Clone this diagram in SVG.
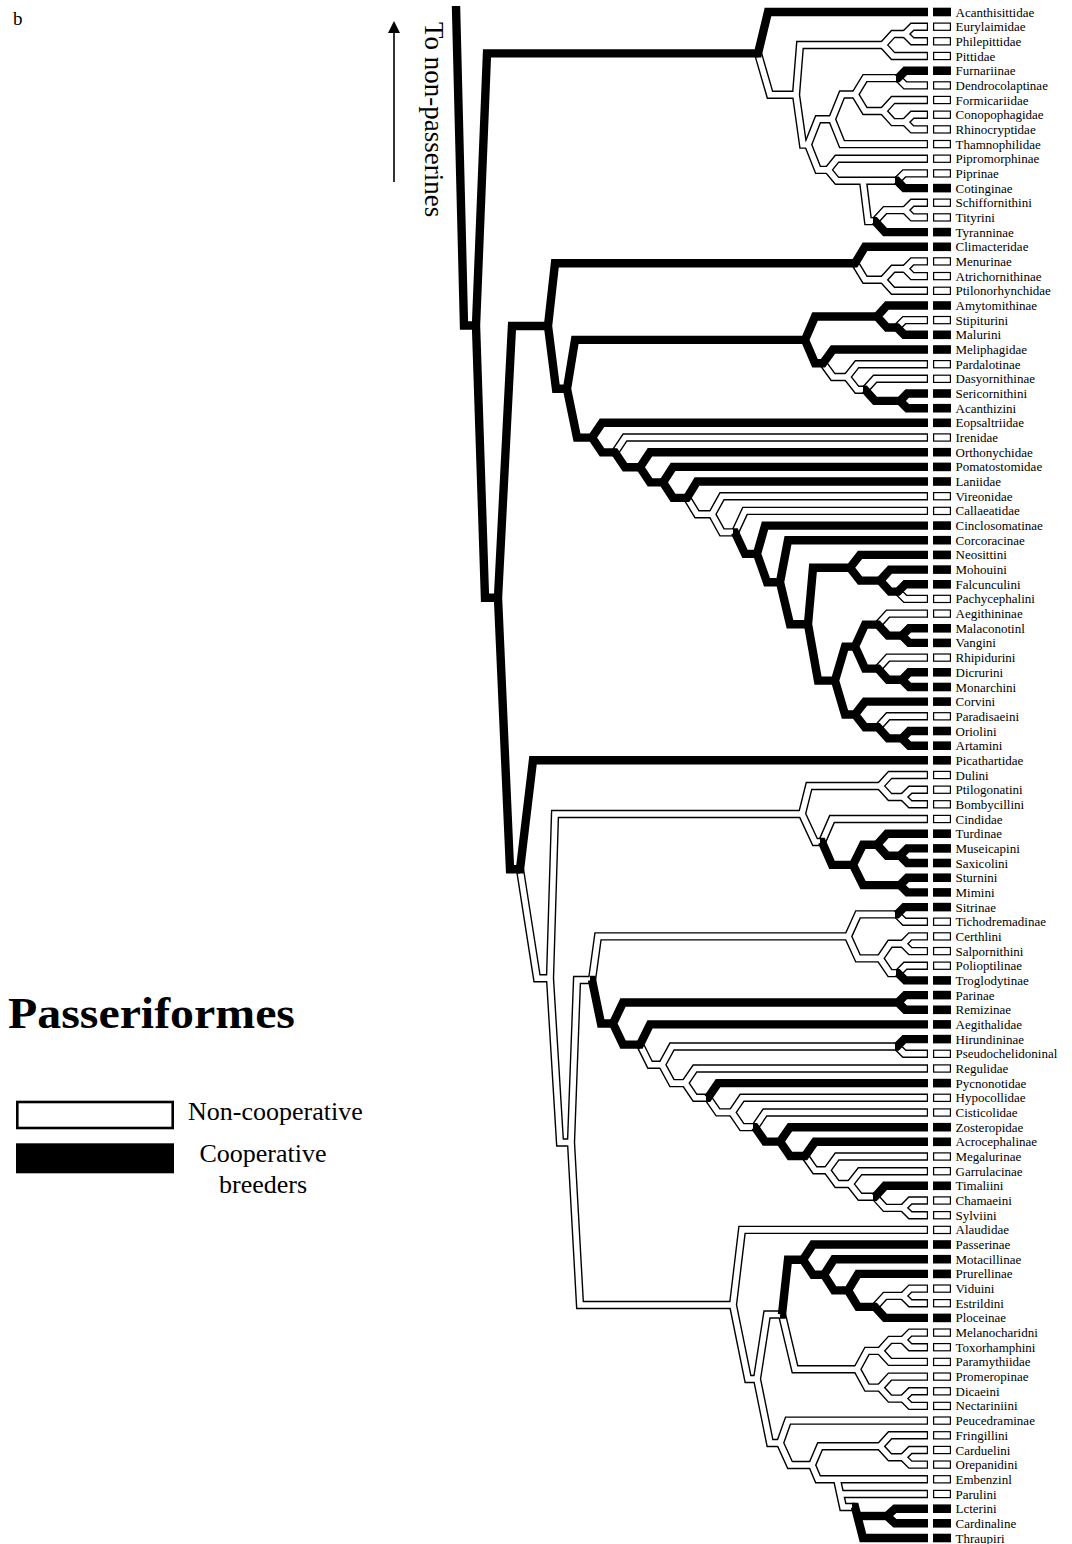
<svg xmlns="http://www.w3.org/2000/svg" xmlns:xlink="http://www.w3.org/1999/xlink" width="1072" height="1544" viewBox="0 0 1072 1544">
<style>
.tx{font-family:"Liberation Serif","Times New Roman",serif;font-size:13px;fill:#000}
.big{font-family:"Liberation Serif","Times New Roman",serif;fill:#000}
.k{fill:#000}
.w{fill:#fff;stroke:#000;stroke-width:1.2}
</style>
<defs>
<clipPath id="cl"><rect x="0" y="0" width="926.8" height="1544"/></clipPath>
<marker id="ah" markerWidth="14" markerHeight="12" refX="0" refY="6" orient="auto" markerUnits="userSpaceOnUse"><polygon points="0,0 12,6 0,12" fill="#000"/></marker>
<g id="hol">
<path d="M758,53.4 L770,94.8 L796,94.8"/>
<path d="M883,45 L800,45 L796,94.8 L803,144.6 L808,144.6"/>
<path d="M905,34 L893,34 L883,45 L893,56 L928,56"/>
<path d="M928,26.7 L912.3,26.7 L905,34 L912.3,41.3 L928,41.3"/>
<path d="M832,119.3 L818,119.3 L808,144.6 L818,169.9 L828,169.9"/>
<path d="M855,94.5 L842,94.5 L832,119.3 L842,144.1 L928,144.1"/>
<path d="M898,78.1 L865,78.1 L855,94.5 L865,111 L883,111"/>
<path d="M898,78.1 L905.3,85.4 L928,85.4"/>
<path d="M928,100 L893,100 L883,111 L893,122.1 L905,122.1"/>
<path d="M928,114.7 L912.3,114.7 L905,122.1 L912.3,129.4 L928,129.4"/>
<path d="M928,158.7 L837,158.7 L828,169.9 L837,180.8 L897,180.8"/>
<path d="M897,180.8 L904.3,173.4 L928,173.4"/>
<path d="M863,180.8 L868,221.1 L875,221.1"/>
<path d="M875,221.1 L885,210.1 L905,210.1"/>
<path d="M928,202.7 L912.3,202.7 L905,210.1 L912.3,217.4 L928,217.4"/>
<path d="M855,263.3 L865,279.8 L883,279.8"/>
<path d="M905,268.8 L893,268.8 L883,279.8 L893,290.8 L928,290.8"/>
<path d="M928,261.4 L912.3,261.4 L905,268.8 L912.3,276.1 L928,276.1"/>
<path d="M897,327.5 L904.3,320.1 L928,320.1"/>
<path d="M823,363.2 L833,377 L847,377"/>
<path d="M928,364.2 L857,364.2 L847,377 L857,389.8 L865,389.8"/>
<path d="M865,389.8 L875,378.8 L928,378.8"/>
<path d="M615,452.4 L625,437.5 L928,437.5"/>
<path d="M687,497.9 L697,514.3 L712,514.3"/>
<path d="M928,496.2 L722,496.2 L712,514.3 L722,532.4 L735,532.4"/>
<path d="M735,532.4 L745,510.9 L928,510.9"/>
<path d="M898,591.6 L905.3,598.9 L928,598.9"/>
<path d="M878,624.6 L888,613.6 L928,613.6"/>
<path d="M878,668.6 L888,657.6 L928,657.6"/>
<path d="M878,727.3 L888,716.3 L928,716.3"/>
<path d="M520,869.3 L537,978.3 L550,978.3"/>
<path d="M802,814 L555,814 L550,978.3 L560,1142.5 L571,1142.5"/>
<path d="M880,786 L809,786 L802,814 L815,842 L822,842"/>
<path d="M928,775 L890,775 L880,786 L890,797 L903,797"/>
<path d="M928,789.7 L910.3,789.7 L903,797 L910.3,804.3 L928,804.3"/>
<path d="M822,842 L832,819 L928,819"/>
<path d="M592,980 L577,980 L571,1142.5 L580,1305 L733,1305"/>
<path d="M592,980 L598,936.4 L848,936.4"/>
<path d="M897,914.4 L858,914.4 L848,936.4 L858,958.4 L880,958.4"/>
<path d="M897,914.4 L904.3,921.7 L928,921.7"/>
<path d="M903,943.8 L890,943.8 L880,958.4 L890,973.1 L898,973.1"/>
<path d="M928,936.4 L910.3,936.4 L903,943.8 L910.3,951.1 L928,951.1"/>
<path d="M898,973.1 L905.3,965.7 L928,965.7"/>
<path d="M640,1044.6 L650,1064.8 L662,1064.8"/>
<path d="M897,1046.5 L672,1046.5 L662,1064.8 L672,1083.1 L685,1083.1"/>
<path d="M897,1046.5 L904.3,1053.8 L928,1053.8"/>
<path d="M928,1068.5 L695,1068.5 L685,1083.1 L695,1097.8 L708,1097.8"/>
<path d="M708,1097.8 L718,1112.4 L732,1112.4"/>
<path d="M928,1097.8 L742,1097.8 L732,1112.4 L742,1127.1 L755,1127.1"/>
<path d="M755,1127.1 L765,1112.5 L928,1112.5"/>
<path d="M805,1156 L815,1170.3 L827,1170.3"/>
<path d="M928,1156.5 L837,1156.5 L827,1170.3 L837,1184 L850,1184"/>
<path d="M928,1171.2 L860,1171.2 L850,1184 L860,1196.8 L875,1196.8"/>
<path d="M875,1196.8 L885,1207.9 L903,1207.9"/>
<path d="M928,1200.5 L910.3,1200.5 L903,1207.9 L910.3,1215.2 L928,1215.2"/>
<path d="M928,1229.9 L742,1229.9 L733,1305 L748,1379 L757,1379"/>
<path d="M782,1314.5 L767,1314.5 L757,1379 L770,1443 L780,1443"/>
<path d="M782,1314.5 L795,1369.3 L857,1369.3"/>
<path d="M875,1306.9 L885,1295.9 L903,1295.9"/>
<path d="M928,1288.6 L910.3,1288.6 L903,1295.9 L910.3,1303.2 L928,1303.2"/>
<path d="M880,1350.9 L867,1350.9 L857,1369.3 L867,1387.6 L880,1387.6"/>
<path d="M903,1339.9 L890,1339.9 L880,1350.9 L890,1361.9 L928,1361.9"/>
<path d="M928,1332.6 L910.3,1332.6 L903,1339.9 L910.3,1347.2 L928,1347.2"/>
<path d="M928,1376.6 L890,1376.6 L880,1387.6 L890,1398.6 L903,1398.6"/>
<path d="M928,1391.3 L910.3,1391.3 L903,1398.6 L910.3,1405.9 L928,1405.9"/>
<path d="M928,1420.6 L788,1420.6 L780,1443 L790,1465 L812,1465"/>
<path d="M880,1446.3 L820,1446.3 L812,1465 L818,1479.3 L928,1479.3"/>
<path d="M928,1435.3 L890,1435.3 L880,1446.3 L890,1457.3 L903,1457.3"/>
<path d="M928,1450 L910.3,1450 L903,1457.3 L910.3,1464.6 L928,1464.6"/>
<path d="M837,1479.3 L843,1507 L855,1507"/>
<path d="M840.2,1494 L928,1494"/>
</g>
</defs>
<rect width="1072" height="1544" fill="#fff"/>
<g id="connectors" fill="none" stroke-linejoin="miter" stroke-miterlimit="6">
<use href="#hol" xlink:href="#hol" stroke="#000" stroke-width="8.4"/>
<use href="#hol" xlink:href="#hol" stroke="#fff" stroke-width="5.6" clip-path="url(#cl)"/>
<g stroke="#000" stroke-width="8.4">
<path d="M456,6 L464,325.5 L476,325.5"/>
<path d="M758,53.4 L487,53.4 L476,325.5 L485,597.7 L498,597.7"/>
<path d="M755,53.4 L758,53.4 L768,12 L928,12"/>
<path d="M896,78.1 L898,78.1 L905.3,70.7 L928,70.7"/>
<path d="M895,180.8 L897,180.8 L904.3,188.1 L928,188.1"/>
<path d="M873,221.1 L875,221.1 L885,232.1 L928,232.1"/>
<path d="M548,326 L512,326 L498,597.7 L510,869.3 L520,869.3"/>
<path d="M855,263.3 L555,263.3 L548,326 L556,388.8 L567,388.8"/>
<path d="M853,263.3 L855,263.3 L865,246.8 L928,246.8"/>
<path d="M805,339.9 L575,339.9 L567,388.8 L577,437.6 L592,437.6"/>
<path d="M877,316.5 L815,316.5 L805,339.9 L815,363.2 L823,363.2"/>
<path d="M928,305.5 L887,305.5 L877,316.5 L887,327.5 L897,327.5"/>
<path d="M895,327.5 L897,327.5 L904.3,334.8 L928,334.8"/>
<path d="M821,363.2 L823,363.2 L833,349.5 L928,349.5"/>
<path d="M863,389.8 L865,389.8 L875,400.9 L900,400.9"/>
<path d="M928,393.5 L907.3,393.5 L900,400.9 L907.3,408.2 L928,408.2"/>
<path d="M928,422.8 L602,422.8 L592,437.6 L602,452.4 L615,452.4"/>
<path d="M613,452.4 L615,452.4 L625,467.3 L640,467.3"/>
<path d="M928,452.2 L650,452.2 L640,467.3 L650,482.4 L663,482.4"/>
<path d="M928,466.9 L673,466.9 L663,482.4 L673,497.9 L687,497.9"/>
<path d="M685,497.9 L687,497.9 L697,481.5 L928,481.5"/>
<path d="M733,532.4 L735,532.4 L745,553.9 L757,553.9"/>
<path d="M928,525.6 L765,525.6 L757,553.9 L767,582.2 L780,582.2"/>
<path d="M928,540.2 L788,540.2 L780,582.2 L790,624.2 L808,624.2"/>
<path d="M850,567.8 L813,567.8 L808,624.2 L818,680.6 L835,680.6"/>
<path d="M928,554.9 L860,554.9 L850,567.8 L860,580.6 L880,580.6"/>
<path d="M928,569.6 L890,569.6 L880,580.6 L890,591.6 L898,591.6"/>
<path d="M896,591.6 L898,591.6 L905.3,584.3 L928,584.3"/>
<path d="M855,646.6 L845,646.6 L835,680.6 L845,714.5 L855,714.5"/>
<path d="M878,624.6 L865,624.6 L855,646.6 L865,668.6 L878,668.6"/>
<path d="M876,624.6 L878,624.6 L888,635.6 L902,635.6"/>
<path d="M928,628.3 L909.3,628.3 L902,635.6 L909.3,642.9 L928,642.9"/>
<path d="M876,668.6 L878,668.6 L888,679.7 L902,679.7"/>
<path d="M928,672.3 L909.3,672.3 L902,679.7 L909.3,687 L928,687"/>
<path d="M928,701.6 L865,701.6 L855,714.5 L865,727.3 L878,727.3"/>
<path d="M876,727.3 L878,727.3 L888,738.4 L902,738.4"/>
<path d="M928,731 L909.3,731 L902,738.4 L909.3,745.7 L928,745.7"/>
<path d="M518,869.3 L520,869.3 L533,760.3 L928,760.3"/>
<path d="M820,842 L822,842 L832,864.9 L853,864.9"/>
<path d="M877,844.7 L863,844.7 L853,864.9 L863,885.1 L900,885.1"/>
<path d="M928,833.7 L887,833.7 L877,844.7 L887,855.7 L900,855.7"/>
<path d="M928,848.4 L907.3,848.4 L900,855.7 L907.3,863 L928,863"/>
<path d="M928,877.7 L907.3,877.7 L900,885.1 L907.3,892.4 L928,892.4"/>
<path d="M590,980 L592,980 L601,1023.5 L613,1023.5"/>
<path d="M895,914.4 L897,914.4 L904.3,907.1 L928,907.1"/>
<path d="M896,973.1 L898,973.1 L905.3,980.4 L928,980.4"/>
<path d="M898,1002.5 L623,1002.5 L613,1023.5 L623,1044.6 L640,1044.6"/>
<path d="M928,995.1 L905.3,995.1 L898,1002.5 L905.3,1009.8 L928,1009.8"/>
<path d="M638,1044.6 L640,1044.6 L650,1024.4 L928,1024.4"/>
<path d="M895,1046.5 L897,1046.5 L904.3,1039.1 L928,1039.1"/>
<path d="M706,1097.8 L708,1097.8 L718,1083.1 L928,1083.1"/>
<path d="M753,1127.1 L755,1127.1 L765,1141.6 L780,1141.6"/>
<path d="M928,1127.2 L790,1127.2 L780,1141.6 L790,1156 L805,1156"/>
<path d="M803,1156 L805,1156 L815,1141.8 L928,1141.8"/>
<path d="M873,1196.8 L875,1196.8 L885,1185.8 L928,1185.8"/>
<path d="M780,1314.5 L782,1314.5 L788,1259.7 L803,1259.7"/>
<path d="M928,1244.5 L813,1244.5 L803,1259.7 L813,1274.8 L824,1274.8"/>
<path d="M928,1259.2 L834,1259.2 L824,1274.8 L834,1290.4 L848,1290.4"/>
<path d="M928,1273.9 L858,1273.9 L848,1290.4 L858,1306.9 L875,1306.9"/>
<path d="M873,1306.9 L875,1306.9 L885,1317.9 L928,1317.9"/>
<path d="M852,1507 L855,1507 L863,1538 L928,1538"/>
<path d="M857.3,1516 L887,1516"/>
<path d="M928,1508.7 L895,1508.7 L887,1516 L895,1523.3 L928,1523.3"/>
</g>
<line x1="394" y1="182" x2="394" y2="33" stroke="#000" stroke-width="1.6" marker-end="url(#ah)"/>
</g>
<g id="taxa" class="tx">
<g id="t1" transform="translate(0,12)"><rect class="k" x="933" y="-4.3" width="18" height="8.6"/><text x="955.5" y="4.5">Acanthisittidae</text></g>
<g id="t2" transform="translate(0,26.7)"><rect class="w" x="933.6" y="-3.6" width="16.8" height="7.2"/><text x="955.5" y="4.5">Eurylaimidae</text></g>
<g id="t3" transform="translate(0,41.3)"><rect class="w" x="933.6" y="-3.6" width="16.8" height="7.2"/><text x="955.5" y="4.5">Philepittidae</text></g>
<g id="t4" transform="translate(0,56)"><rect class="w" x="933.6" y="-3.6" width="16.8" height="7.2"/><text x="955.5" y="4.5">Pittidae</text></g>
<g id="t5" transform="translate(0,70.7)"><rect class="k" x="933" y="-4.3" width="18" height="8.6"/><text x="955.5" y="4.5">Furnariinae</text></g>
<g id="t6" transform="translate(0,85.4)"><rect class="w" x="933.6" y="-3.6" width="16.8" height="7.2"/><text x="955.5" y="4.5">Dendrocolaptinae</text></g>
<g id="t7" transform="translate(0,100)"><rect class="w" x="933.6" y="-3.6" width="16.8" height="7.2"/><text x="955.5" y="4.5">Formicariidae</text></g>
<g id="t8" transform="translate(0,114.7)"><rect class="w" x="933.6" y="-3.6" width="16.8" height="7.2"/><text x="955.5" y="4.5">Conopophagidae</text></g>
<g id="t9" transform="translate(0,129.4)"><rect class="w" x="933.6" y="-3.6" width="16.8" height="7.2"/><text x="955.5" y="4.5">Rhinocryptidae</text></g>
<g id="t10" transform="translate(0,144.1)"><rect class="w" x="933.6" y="-3.6" width="16.8" height="7.2"/><text x="955.5" y="4.5">Thamnophilidae</text></g>
<g id="t11" transform="translate(0,158.7)"><rect class="w" x="933.6" y="-3.6" width="16.8" height="7.2"/><text x="955.5" y="4.5">Pipromorphinae</text></g>
<g id="t12" transform="translate(0,173.4)"><rect class="w" x="933.6" y="-3.6" width="16.8" height="7.2"/><text x="955.5" y="4.5">Piprinae</text></g>
<g id="t13" transform="translate(0,188.1)"><rect class="k" x="933" y="-4.3" width="18" height="8.6"/><text x="955.5" y="4.5">Cotinginae</text></g>
<g id="t14" transform="translate(0,202.7)"><rect class="w" x="933.6" y="-3.6" width="16.8" height="7.2"/><text x="955.5" y="4.5">Schiffornithini</text></g>
<g id="t15" transform="translate(0,217.4)"><rect class="w" x="933.6" y="-3.6" width="16.8" height="7.2"/><text x="955.5" y="4.5">Tityrini</text></g>
<g id="t16" transform="translate(0,232.1)"><rect class="k" x="933" y="-4.3" width="18" height="8.6"/><text x="955.5" y="4.5">Tyranninae</text></g>
<g id="t17" transform="translate(0,246.8)"><rect class="k" x="933" y="-4.3" width="18" height="8.6"/><text x="955.5" y="4.5">Climacteridae</text></g>
<g id="t18" transform="translate(0,261.4)"><rect class="w" x="933.6" y="-3.6" width="16.8" height="7.2"/><text x="955.5" y="4.5">Menurinae</text></g>
<g id="t19" transform="translate(0,276.1)"><rect class="w" x="933.6" y="-3.6" width="16.8" height="7.2"/><text x="955.5" y="4.5">Atrichornithinae</text></g>
<g id="t20" transform="translate(0,290.8)"><rect class="w" x="933.6" y="-3.6" width="16.8" height="7.2"/><text x="955.5" y="4.5">Ptilonorhynchidae</text></g>
<g id="t21" transform="translate(0,305.5)"><rect class="k" x="933" y="-4.3" width="18" height="8.6"/><text x="955.5" y="4.5">Amytomithinae</text></g>
<g id="t22" transform="translate(0,320.1)"><rect class="w" x="933.6" y="-3.6" width="16.8" height="7.2"/><text x="955.5" y="4.5">Stipiturini</text></g>
<g id="t23" transform="translate(0,334.8)"><rect class="k" x="933" y="-4.3" width="18" height="8.6"/><text x="955.5" y="4.5">Malurini</text></g>
<g id="t24" transform="translate(0,349.5)"><rect class="k" x="933" y="-4.3" width="18" height="8.6"/><text x="955.5" y="4.5">Meliphagidae</text></g>
<g id="t25" transform="translate(0,364.2)"><rect class="w" x="933.6" y="-3.6" width="16.8" height="7.2"/><text x="955.5" y="4.5">Pardalotinae</text></g>
<g id="t26" transform="translate(0,378.8)"><rect class="w" x="933.6" y="-3.6" width="16.8" height="7.2"/><text x="955.5" y="4.5">Dasyornithinae</text></g>
<g id="t27" transform="translate(0,393.5)"><rect class="k" x="933" y="-4.3" width="18" height="8.6"/><text x="955.5" y="4.5">Sericornithini</text></g>
<g id="t28" transform="translate(0,408.2)"><rect class="k" x="933" y="-4.3" width="18" height="8.6"/><text x="955.5" y="4.5">Acanthizini</text></g>
<g id="t29" transform="translate(0,422.8)"><rect class="k" x="933" y="-4.3" width="18" height="8.6"/><text x="955.5" y="4.5">Eopsaltriidae</text></g>
<g id="t30" transform="translate(0,437.5)"><rect class="w" x="933.6" y="-3.6" width="16.8" height="7.2"/><text x="955.5" y="4.5">Irenidae</text></g>
<g id="t31" transform="translate(0,452.2)"><rect class="k" x="933" y="-4.3" width="18" height="8.6"/><text x="955.5" y="4.5">Orthonychidae</text></g>
<g id="t32" transform="translate(0,466.9)"><rect class="k" x="933" y="-4.3" width="18" height="8.6"/><text x="955.5" y="4.5">Pomatostomidae</text></g>
<g id="t33" transform="translate(0,481.5)"><rect class="k" x="933" y="-4.3" width="18" height="8.6"/><text x="955.5" y="4.5">Laniidae</text></g>
<g id="t34" transform="translate(0,496.2)"><rect class="w" x="933.6" y="-3.6" width="16.8" height="7.2"/><text x="955.5" y="4.5">Vireonidae</text></g>
<g id="t35" transform="translate(0,510.9)"><rect class="w" x="933.6" y="-3.6" width="16.8" height="7.2"/><text x="955.5" y="4.5">Callaeatidae</text></g>
<g id="t36" transform="translate(0,525.6)"><rect class="k" x="933" y="-4.3" width="18" height="8.6"/><text x="955.5" y="4.5">Cinclosomatinae</text></g>
<g id="t37" transform="translate(0,540.2)"><rect class="k" x="933" y="-4.3" width="18" height="8.6"/><text x="955.5" y="4.5">Corcoracinae</text></g>
<g id="t38" transform="translate(0,554.9)"><rect class="k" x="933" y="-4.3" width="18" height="8.6"/><text x="955.5" y="4.5">Neosittini</text></g>
<g id="t39" transform="translate(0,569.6)"><rect class="k" x="933" y="-4.3" width="18" height="8.6"/><text x="955.5" y="4.5">Mohouini</text></g>
<g id="t40" transform="translate(0,584.3)"><rect class="k" x="933" y="-4.3" width="18" height="8.6"/><text x="955.5" y="4.5">Falcunculini</text></g>
<g id="t41" transform="translate(0,598.9)"><rect class="w" x="933.6" y="-3.6" width="16.8" height="7.2"/><text x="955.5" y="4.5">Pachycephalini</text></g>
<g id="t42" transform="translate(0,613.6)"><rect class="w" x="933.6" y="-3.6" width="16.8" height="7.2"/><text x="955.5" y="4.5">Aegithininae</text></g>
<g id="t43" transform="translate(0,628.3)"><rect class="k" x="933" y="-4.3" width="18" height="8.6"/><text x="955.5" y="4.5">Malaconotinl</text></g>
<g id="t44" transform="translate(0,642.9)"><rect class="k" x="933" y="-4.3" width="18" height="8.6"/><text x="955.5" y="4.5">Vangini</text></g>
<g id="t45" transform="translate(0,657.6)"><rect class="w" x="933.6" y="-3.6" width="16.8" height="7.2"/><text x="955.5" y="4.5">Rhipidurini</text></g>
<g id="t46" transform="translate(0,672.3)"><rect class="k" x="933" y="-4.3" width="18" height="8.6"/><text x="955.5" y="4.5">Dicrurini</text></g>
<g id="t47" transform="translate(0,687)"><rect class="k" x="933" y="-4.3" width="18" height="8.6"/><text x="955.5" y="4.5">Monarchini</text></g>
<g id="t48" transform="translate(0,701.6)"><rect class="k" x="933" y="-4.3" width="18" height="8.6"/><text x="955.5" y="4.5">Corvini</text></g>
<g id="t49" transform="translate(0,716.3)"><rect class="w" x="933.6" y="-3.6" width="16.8" height="7.2"/><text x="955.5" y="4.5">Paradisaeini</text></g>
<g id="t50" transform="translate(0,731)"><rect class="k" x="933" y="-4.3" width="18" height="8.6"/><text x="955.5" y="4.5">Oriolini</text></g>
<g id="t51" transform="translate(0,745.7)"><rect class="k" x="933" y="-4.3" width="18" height="8.6"/><text x="955.5" y="4.5">Artamini</text></g>
<g id="t52" transform="translate(0,760.3)"><rect class="k" x="933" y="-4.3" width="18" height="8.6"/><text x="955.5" y="4.5">Picathartidae</text></g>
<g id="t53" transform="translate(0,775)"><rect class="w" x="933.6" y="-3.6" width="16.8" height="7.2"/><text x="955.5" y="4.5">Dulini</text></g>
<g id="t54" transform="translate(0,789.7)"><rect class="w" x="933.6" y="-3.6" width="16.8" height="7.2"/><text x="955.5" y="4.5">Ptilogonatini</text></g>
<g id="t55" transform="translate(0,804.3)"><rect class="w" x="933.6" y="-3.6" width="16.8" height="7.2"/><text x="955.5" y="4.5">Bombycillini</text></g>
<g id="t56" transform="translate(0,819)"><rect class="w" x="933.6" y="-3.6" width="16.8" height="7.2"/><text x="955.5" y="4.5">Cindidae</text></g>
<g id="t57" transform="translate(0,833.7)"><rect class="k" x="933" y="-4.3" width="18" height="8.6"/><text x="955.5" y="4.5">Turdinae</text></g>
<g id="t58" transform="translate(0,848.4)"><rect class="k" x="933" y="-4.3" width="18" height="8.6"/><text x="955.5" y="4.5">Museicapini</text></g>
<g id="t59" transform="translate(0,863)"><rect class="k" x="933" y="-4.3" width="18" height="8.6"/><text x="955.5" y="4.5">Saxicolini</text></g>
<g id="t60" transform="translate(0,877.7)"><rect class="k" x="933" y="-4.3" width="18" height="8.6"/><text x="955.5" y="4.5">Sturnini</text></g>
<g id="t61" transform="translate(0,892.4)"><rect class="k" x="933" y="-4.3" width="18" height="8.6"/><text x="955.5" y="4.5">Mimini</text></g>
<g id="t62" transform="translate(0,907.1)"><rect class="k" x="933" y="-4.3" width="18" height="8.6"/><text x="955.5" y="4.5">Sitrinae</text></g>
<g id="t63" transform="translate(0,921.7)"><rect class="w" x="933.6" y="-3.6" width="16.8" height="7.2"/><text x="955.5" y="4.5">Tichodremadinae</text></g>
<g id="t64" transform="translate(0,936.4)"><rect class="w" x="933.6" y="-3.6" width="16.8" height="7.2"/><text x="955.5" y="4.5">Certhlini</text></g>
<g id="t65" transform="translate(0,951.1)"><rect class="w" x="933.6" y="-3.6" width="16.8" height="7.2"/><text x="955.5" y="4.5">Salpornithini</text></g>
<g id="t66" transform="translate(0,965.7)"><rect class="w" x="933.6" y="-3.6" width="16.8" height="7.2"/><text x="955.5" y="4.5">Polioptilinae</text></g>
<g id="t67" transform="translate(0,980.4)"><rect class="k" x="933" y="-4.3" width="18" height="8.6"/><text x="955.5" y="4.5">Troglodytinae</text></g>
<g id="t68" transform="translate(0,995.1)"><rect class="k" x="933" y="-4.3" width="18" height="8.6"/><text x="955.5" y="4.5">Parinae</text></g>
<g id="t69" transform="translate(0,1009.8)"><rect class="k" x="933" y="-4.3" width="18" height="8.6"/><text x="955.5" y="4.5">Remizinae</text></g>
<g id="t70" transform="translate(0,1024.4)"><rect class="k" x="933" y="-4.3" width="18" height="8.6"/><text x="955.5" y="4.5">Aegithalidae</text></g>
<g id="t71" transform="translate(0,1039.1)"><rect class="k" x="933" y="-4.3" width="18" height="8.6"/><text x="955.5" y="4.5">Hirundininae</text></g>
<g id="t72" transform="translate(0,1053.8)"><rect class="w" x="933.6" y="-3.6" width="16.8" height="7.2"/><text x="955.5" y="4.5">Pseudochelidoninal</text></g>
<g id="t73" transform="translate(0,1068.5)"><rect class="w" x="933.6" y="-3.6" width="16.8" height="7.2"/><text x="955.5" y="4.5">Regulidae</text></g>
<g id="t74" transform="translate(0,1083.1)"><rect class="k" x="933" y="-4.3" width="18" height="8.6"/><text x="955.5" y="4.5">Pycnonotidae</text></g>
<g id="t75" transform="translate(0,1097.8)"><rect class="w" x="933.6" y="-3.6" width="16.8" height="7.2"/><text x="955.5" y="4.5">Hypocollidae</text></g>
<g id="t76" transform="translate(0,1112.5)"><rect class="w" x="933.6" y="-3.6" width="16.8" height="7.2"/><text x="955.5" y="4.5">Cisticolidae</text></g>
<g id="t77" transform="translate(0,1127.2)"><rect class="k" x="933" y="-4.3" width="18" height="8.6"/><text x="955.5" y="4.5">Zosteropidae</text></g>
<g id="t78" transform="translate(0,1141.8)"><rect class="k" x="933" y="-4.3" width="18" height="8.6"/><text x="955.5" y="4.5">Acrocephalinae</text></g>
<g id="t79" transform="translate(0,1156.5)"><rect class="w" x="933.6" y="-3.6" width="16.8" height="7.2"/><text x="955.5" y="4.5">Megalurinae</text></g>
<g id="t80" transform="translate(0,1171.2)"><rect class="w" x="933.6" y="-3.6" width="16.8" height="7.2"/><text x="955.5" y="4.5">Garrulacinae</text></g>
<g id="t81" transform="translate(0,1185.8)"><rect class="k" x="933" y="-4.3" width="18" height="8.6"/><text x="955.5" y="4.5">Timaliini</text></g>
<g id="t82" transform="translate(0,1200.5)"><rect class="w" x="933.6" y="-3.6" width="16.8" height="7.2"/><text x="955.5" y="4.5">Chamaeini</text></g>
<g id="t83" transform="translate(0,1215.2)"><rect class="w" x="933.6" y="-3.6" width="16.8" height="7.2"/><text x="955.5" y="4.5">Sylviini</text></g>
<g id="t84" transform="translate(0,1229.9)"><rect class="w" x="933.6" y="-3.6" width="16.8" height="7.2"/><text x="955.5" y="4.5">Alaudidae</text></g>
<g id="t85" transform="translate(0,1244.5)"><rect class="k" x="933" y="-4.3" width="18" height="8.6"/><text x="955.5" y="4.5">Passerinae</text></g>
<g id="t86" transform="translate(0,1259.2)"><rect class="k" x="933" y="-4.3" width="18" height="8.6"/><text x="955.5" y="4.5">Motacillinae</text></g>
<g id="t87" transform="translate(0,1273.9)"><rect class="k" x="933" y="-4.3" width="18" height="8.6"/><text x="955.5" y="4.5">Prurellinae</text></g>
<g id="t88" transform="translate(0,1288.6)"><rect class="w" x="933.6" y="-3.6" width="16.8" height="7.2"/><text x="955.5" y="4.5">Viduini</text></g>
<g id="t89" transform="translate(0,1303.2)"><rect class="w" x="933.6" y="-3.6" width="16.8" height="7.2"/><text x="955.5" y="4.5">Estrildini</text></g>
<g id="t90" transform="translate(0,1317.9)"><rect class="k" x="933" y="-4.3" width="18" height="8.6"/><text x="955.5" y="4.5">Ploceinae</text></g>
<g id="t91" transform="translate(0,1332.6)"><rect class="w" x="933.6" y="-3.6" width="16.8" height="7.2"/><text x="955.5" y="4.5">Melanocharidni</text></g>
<g id="t92" transform="translate(0,1347.2)"><rect class="w" x="933.6" y="-3.6" width="16.8" height="7.2"/><text x="955.5" y="4.5">Toxorhamphini</text></g>
<g id="t93" transform="translate(0,1361.9)"><rect class="w" x="933.6" y="-3.6" width="16.8" height="7.2"/><text x="955.5" y="4.5">Paramythiidae</text></g>
<g id="t94" transform="translate(0,1376.6)"><rect class="w" x="933.6" y="-3.6" width="16.8" height="7.2"/><text x="955.5" y="4.5">Promeropinae</text></g>
<g id="t95" transform="translate(0,1391.3)"><rect class="w" x="933.6" y="-3.6" width="16.8" height="7.2"/><text x="955.5" y="4.5">Dicaeini</text></g>
<g id="t96" transform="translate(0,1405.9)"><rect class="w" x="933.6" y="-3.6" width="16.8" height="7.2"/><text x="955.5" y="4.5">Nectariniini</text></g>
<g id="t97" transform="translate(0,1420.6)"><rect class="w" x="933.6" y="-3.6" width="16.8" height="7.2"/><text x="955.5" y="4.5">Peucedraminae</text></g>
<g id="t98" transform="translate(0,1435.3)"><rect class="w" x="933.6" y="-3.6" width="16.8" height="7.2"/><text x="955.5" y="4.5">Fringillini</text></g>
<g id="t99" transform="translate(0,1450)"><rect class="w" x="933.6" y="-3.6" width="16.8" height="7.2"/><text x="955.5" y="4.5">Carduelini</text></g>
<g id="t100" transform="translate(0,1464.6)"><rect class="w" x="933.6" y="-3.6" width="16.8" height="7.2"/><text x="955.5" y="4.5">Orepanidini</text></g>
<g id="t101" transform="translate(0,1479.3)"><rect class="w" x="933.6" y="-3.6" width="16.8" height="7.2"/><text x="955.5" y="4.5">Embenzinl</text></g>
<g id="t102" transform="translate(0,1494)"><rect class="w" x="933.6" y="-3.6" width="16.8" height="7.2"/><text x="955.5" y="4.5">Parulini</text></g>
<g id="t103" transform="translate(0,1508.7)"><rect class="k" x="933" y="-4.3" width="18" height="8.6"/><text x="955.5" y="4.5">Lcterini</text></g>
<g id="t104" transform="translate(0,1523.3)"><rect class="k" x="933" y="-4.3" width="18" height="8.6"/><text x="955.5" y="4.5">Cardinaline</text></g>
<g id="t105" transform="translate(0,1538)"><rect class="k" x="933" y="-4.3" width="18" height="8.6"/><text x="955.5" y="4.5">Thraupiri</text></g>
</g>
<g id="labels" class="big">
<text x="13" y="25" font-size="19">b</text>
<text transform="translate(425,22) rotate(90)" font-size="27">To non-passerines</text>
<text x="8" y="1028" font-size="44" font-weight="bold" textLength="287" lengthAdjust="spacingAndGlyphs">Passeriformes</text>
</g>
<g id="legend" class="big" font-size="26">
<rect x="17.3" y="1102" width="155.4" height="26" fill="#fff" stroke="#000" stroke-width="2.6"/>
<rect x="16" y="1143.3" width="158" height="30" fill="#000"/>
<text x="188" y="1120">Non-cooperative</text>
<text x="263" y="1162" text-anchor="middle">Cooperative</text>
<text x="263" y="1193" text-anchor="middle">breeders</text>
</g>
</svg>
